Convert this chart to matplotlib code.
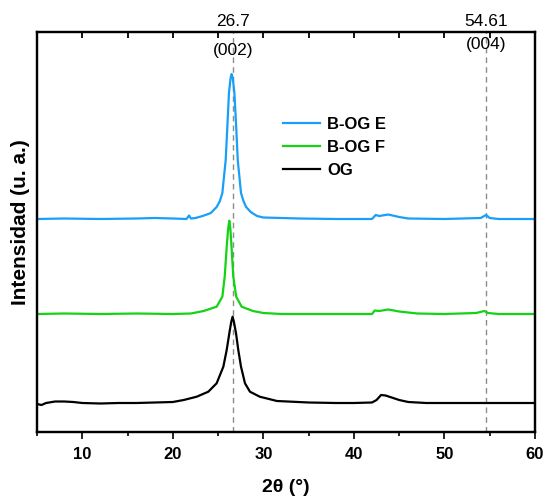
import numpy as np
import matplotlib.pyplot as plt

plt.rcParams['font.family'] = ['Liberation Sans', 'DejaVu Sans']

# difractogramas (intensidad en u. a., ya desplazados)
two_theta_og = [5.0, 5.5, 6.0, 7.0, 8.0, 9.0, 10.0, 12.0, 14.0, 16.0, 18.0, 20.0,
                21.2, 22.64, 23.92, 24.84, 25.58, 25.95, 26.24, 26.45, 26.6, 26.75,
                26.98, 27.23, 27.53, 27.97, 28.52, 29.6, 31.5, 35.0, 38.0, 40.0,
                42.0, 42.5, 43.0, 43.5, 44.0, 45.0, 46.0, 48.0, 50.0, 54.0, 57.0, 60.0]
og = [28, 27, 29, 30.5, 30.5, 30, 29, 28.5, 29, 29, 29.5, 30,
      32, 35.3, 40.3, 48.7, 65.3, 82, 98.7, 110, 115.3, 110,
      98.7, 82, 65.3, 48.7, 40.3, 35.3, 31, 29.5, 29, 29,
      29.5, 32, 37, 36.5, 35, 32, 30, 29, 29, 29, 29, 29]

two_theta_f = [5.0, 8.0, 12.0, 16.0, 20.0, 22.0, 23.4, 24.84, 25.47, 25.73, 25.98,
               26.12, 26.24, 26.35, 26.46, 26.68, 27.0, 27.6, 28.85, 30.0, 32.0,
               36.0, 40.0, 42.0, 42.3, 42.8, 43.8, 45.0, 47.0, 50.0, 53.5, 54.4,
               54.8, 56.0, 60.0]
bog_f = [118, 118.5, 118, 118.5, 118, 118.5, 121, 125.3, 135.3, 155.3, 188.7,
         204, 211.3, 204, 188.7, 155.3, 135.3, 125.3, 121, 119, 118,
         118, 118, 118, 121.5, 121, 122.5, 120.5, 118.5, 118, 119, 121,
         119, 118, 118]

two_theta_e = [5.0, 8.0, 12.0, 16.0, 18.0, 20.0, 21.5, 21.8, 22.0, 22.5, 23.3,
               24.2, 24.84, 25.2, 25.47, 25.84, 26.02, 26.2, 26.38, 26.5, 26.62,
               26.8, 27.0, 27.17, 27.53, 27.8, 28.1, 28.6, 29.3, 30.0, 34.0, 38.0,
               42.0, 42.4, 42.8, 43.8, 45.0, 46.0, 50.0, 54.0, 54.6, 55.0, 56.0, 60.0]
bog_e = [213, 213.5, 213, 213.5, 214, 213.5, 213, 216.5, 213.5, 214, 216,
         219, 225, 231, 239, 272, 305, 339, 354, 358, 354,
         339, 305, 272, 239, 231, 225, 220, 216, 214.5, 213.5, 213,
         213, 217, 216, 217.5, 215, 213.5, 213, 214, 217, 214, 213, 213]

series = [(two_theta_e, bog_e, 'B-OG E', '#199ff7'),
          (two_theta_f, bog_f, 'B-OG F', '#13d313'),
          (two_theta_og, og, 'OG', 'black')]

peak_pos = [26.7, 54.61]
peak_lbl = ['26.7', '54.61']
peak_hkl = ['(002)', '(004)']

fig = plt.figure(figsize=(5.43, 4.97), dpi=100)
ax = fig.add_axes([37 / 543, 65 / 497, 498 / 543, 400 / 497])

for x, y, name, c in series:
    ax.plot(x, y, color=c, lw=1.6, label=name)

for p, lbl, hkl, yy in zip(peak_pos, peak_lbl, peak_hkl, [382, 387]):
    ax.axvline(p, color='#8c8c8c', ls='--', lw=1.0, dashes=(4, 3), zorder=0)
    ax.text(p, yy, hkl, ha='center', va='center', fontsize=12.5)
    ax.text(p, 1.008, lbl, ha='center', va='bottom', fontsize=12.5,
            transform=ax.get_xaxis_transform())

ax.set_xlim(5, 60)
ax.set_ylim(0, 400)
ax.set_yticks([])
ax.set_xticks(np.arange(10, 61, 10))
ax.set_xticks(np.arange(5, 61, 5), minor=True)
ax.tick_params(axis='x', which='major', direction='out', length=5, width=1.2,
               labelsize=12, pad=6)
ax.tick_params(axis='x', which='minor', direction='out', length=3, width=1.2)
for t in ax.get_xticklabels():
    t.set_fontweight('bold')
for s in ax.spines.values():
    s.set_linewidth(1.6)

# ticks del eje superior hacia dentro
ax2 = ax.twiny()
ax2.set_xlim(5, 60)
ax2.set_xticks(np.arange(10, 60, 5))
ax2.tick_params(axis='x', direction='in', length=4.5, width=1.3, color='black',
                labeltop=False)
for s in ax2.spines.values():
    s.set_linewidth(1.6)

ax.set_xlabel('2θ (°)', fontsize=14, fontweight='bold', labelpad=12)
ax.set_ylabel('Intensidad (u. a.)', fontsize=15, fontweight='bold')
ax.yaxis.set_label_coords(-0.014, 0.525)

leg = ax.legend(loc='upper left', bbox_to_anchor=(0.464, 0.825), frameon=False,
                prop={'weight': 'bold', 'size': 12}, handlelength=2.2,
                labelspacing=0.48, handletextpad=0.45)

fig.savefig('out.png', dpi=100)
